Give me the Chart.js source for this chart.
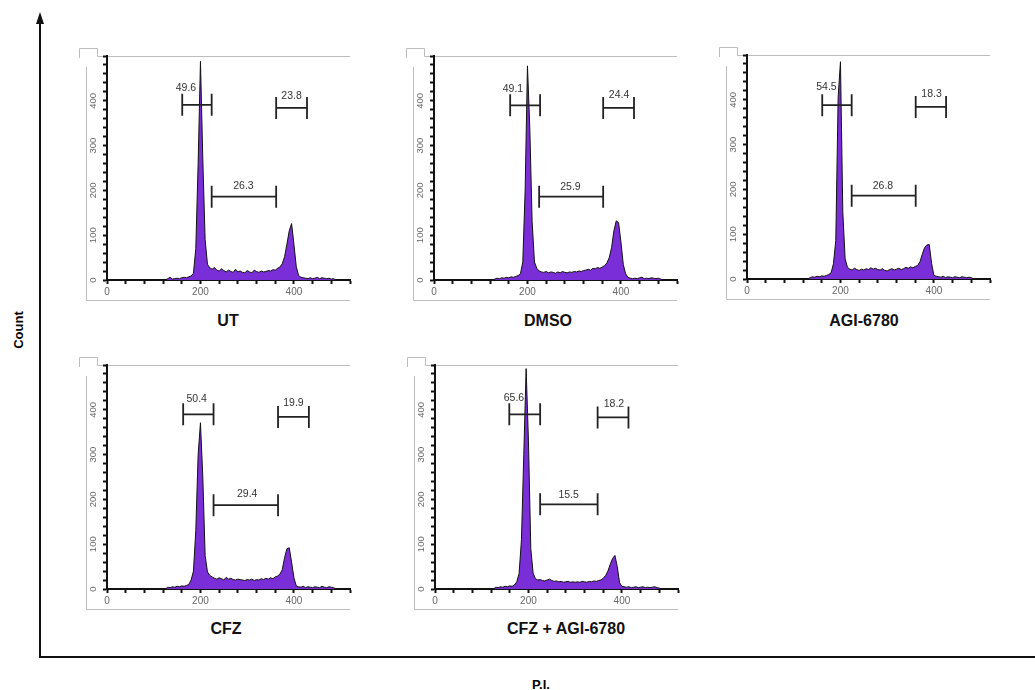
<!DOCTYPE html>
<html>
<head>
<meta charset="utf-8">
<script src="https://cdn.jsdelivr.net/npm/chart.js@4.4.1/dist/chart.umd.min.js"></script>
<style>
  body { margin: 0; background: #fff; font-family: "Liberation Sans", Arial, sans-serif; }
  #page { position: relative; width: 1035px; height: 690px; overflow: hidden; }
  canvas { position: absolute; }
  .title { position: absolute; font-weight: bold; font-size: 16px; color: #111; transform: translateX(-50%); white-space: nowrap; }
  #count { position: absolute; left: 18px; top: 330px; font-weight: bold; font-size: 13px; transform: translate(-50%, -50%) rotate(-90deg); }
  #pi { position: absolute; left: 541px; top: 684px; font-weight: bold; font-size: 13px; transform: translate(-50%, -50%); }
  svg { position: absolute; left: 0; top: 0; }
</style>
</head>
<body>
<div id="page">
  <svg width="1035" height="690">
    <line x1="40" y1="22" x2="40" y2="657" stroke="#111" stroke-width="2"/>
    <polygon points="40,12 36,24 44,24" fill="#111"/>
    <line x1="39" y1="657" x2="1035" y2="657" stroke="#111" stroke-width="2"/>
  </svg>
  <canvas id="p1" width="279" height="262" style="left:75px;top:42px"></canvas>
  <canvas id="p2" width="279" height="262" style="left:402px;top:42px"></canvas>
  <canvas id="p3" width="279" height="262" style="left:715px;top:41px"></canvas>
  <canvas id="p4" width="279" height="262" style="left:75px;top:351px"></canvas>
  <canvas id="p5" width="279" height="262" style="left:403px;top:351px"></canvas>
  <div class="title" style="left:228px;top:312px">UT</div>
  <div class="title" style="left:548px;top:312px">DMSO</div>
  <div class="title" style="left:864px;top:312px">AGI-6780</div>
  <div class="title" style="left:226px;top:620px">CFZ</div>
  <div class="title" style="left:566px;top:620px">CFZ + AGI-6780</div>
  <div id="count">Count</div>
  <div id="pi">P.I.</div>
</div>
<script>
// canaux P.I. (centre des classes de l'histogramme)
const binX = [125,130,135,140,145,150,155,160,165,170,
              175,180,185,190,195,200,205,210,215,220,
              225,230,235,240,245,250,255,260,265,270,
              275,280,285,290,295,300,305,310,315,320,
              325,330,335,340,345,350,355,360,365,370,
              375,380,385,390,395,400,405,410,415,420,
              425,430,435,440,445,450,455,460,465,470,
              475,480,485,490];

// comptages lus sur chaque histogramme
const countUT = [0,3,6,2,3,4,3,5,6,5,
                 7,9,15,70,260,488,270,90,35,27,
                 24,28,22,20,25,21,18,22,19,17,
                 24,18,20,17,16,21,18,16,22,19,
                 17,20,18,19,21,20,23,22,26,29,
                 36,52,80,110,126,80,30,10,6,5,
                 4,3,5,3,4,6,3,5,4,3,
                 4,2,3,0];
const countDMSO = [0,2,4,3,5,4,6,5,7,6,
                   8,10,14,40,200,478,340,130,40,26,
                   20,18,17,19,16,18,17,15,18,16,
                   19,17,16,18,17,19,18,20,19,21,
                   22,24,22,26,25,28,26,29,32,38,
                   50,72,110,132,128,85,35,14,6,4,
                   3,4,3,5,6,3,4,3,5,4,
                   3,4,2,0];
const countAGI = [0,0,3,5,4,6,5,7,6,8,
                  10,14,34,86,405,485,150,45,26,22,
                  20,24,21,19,22,20,23,21,25,22,
                  24,21,20,23,19,18,21,23,20,22,
                  24,21,23,26,24,27,25,28,30,38,
                  55,70,76,77,35,8,6,5,4,6,
                  3,5,4,3,5,4,3,5,4,3,
                  4,3,0,0];
const countCFZ = [0,4,3,5,4,6,5,7,6,8,
                  10,20,40,130,300,371,250,75,38,30,
                  27,24,22,25,23,20,26,22,24,21,
                  20,22,21,20,19,21,20,22,19,21,
                  20,23,21,24,22,25,23,27,29,33,
                  43,70,90,92,60,25,7,5,4,6,
                  3,5,4,3,5,4,3,6,4,3,
                  5,4,3,0];
const countCFZAGI = [0,4,3,5,4,6,5,7,6,9,
                     16,35,110,300,492,330,90,35,23,20,
                     21,19,18,20,22,19,17,18,16,17,
                     15,16,17,15,16,15,16,15,17,16,
                     15,17,16,18,17,19,20,24,30,40,
                     55,68,75,50,14,6,5,4,5,3,
                     4,5,3,4,5,3,4,3,4,5,
                     3,2,0,0];

// portes : [début, fin, hauteur, x du texte, y du texte, pourcentage]
const gatesUT = [
    [161, 224, 391, 169, 429, '49.6'],
    [224, 362, 186, 292, 210, '26.3'],
    [362, 428, 384, 395, 411, '23.8']
];
const gatesDMSO = [
    [163, 227, 390, 169, 425, '49.1'],
    [225, 362, 186, 292, 208, '25.9'],
    [362, 428, 384, 396, 413, '24.4']
];
const gatesAGI = [
    [161, 224, 388, 170, 428, '54.5'],
    [224, 361, 186, 291, 207, '26.8'],
    [361, 426, 384, 395, 413, '18.3']
];
const gatesCFZ = [
    [163, 228, 390, 192, 423, '50.4'],
    [228, 366, 187, 300, 212, '29.4'],
    [366, 432, 384, 399, 415, '19.9']
];
const gatesCFZAGI = [
    [159, 225, 390, 169, 426, '65.6'],
    [225, 348, 189, 286, 209, '15.5'],
    [348, 414, 383, 383, 413, '18.2']
];

const xTicks = [0, 200, 400];     // étiquettes de l'axe P.I.
const yTicks = [0, 100, 200, 300, 400]; // étiquettes de l'axe Count

const purple = '#7a2ed8';
const fontName = "'Liberation Sans', Arial, sans-serif";


// cadre gris façon FlowJo autour de chaque histogramme
const framePlugin = {
    id: 'frame',
    beforeDraw(chart) {
        const {ctx, chartArea: a} = chart;
        ctx.save();
        ctx.strokeStyle = '#bdbdbd';
        ctx.lineWidth = 1;
        ctx.beginPath();
        ctx.moveTo(a.left - 27.5, a.top + 2);
        ctx.lineTo(a.left - 27.5, a.top - 7.5);
        ctx.lineTo(a.left - 9.5, a.top - 7.5);
        ctx.lineTo(a.left - 9.5, a.top + 0.5);
        ctx.lineTo(a.right, a.top + 0.5);
        ctx.moveTo(a.left - 20.5, a.top + 11);
        ctx.lineTo(a.left - 20.5, a.bottom + 20.5);
        ctx.lineTo(a.right, a.bottom + 20.5);
        ctx.stroke();
        ctx.restore();
    }
};

// portes (barres avec butées) et pourcentages
const gatePlugin = {
    id: 'gates',
    afterDatasetsDraw(chart, args, opts) {
        const {ctx, scales: {x, y}} = chart;
        ctx.save();
        opts.gates.forEach(g => {
            const x1 = x.getPixelForValue(g[0]);
            const x2 = x.getPixelForValue(g[1]);
            const yy = y.getPixelForValue(g[2]);
            ctx.strokeStyle = '#222';
            ctx.lineWidth = 1.8;
            ctx.beginPath();
            ctx.moveTo(x1, yy); ctx.lineTo(x2, yy);
            ctx.moveTo(x1, yy - 11); ctx.lineTo(x1, yy + 11);
            ctx.moveTo(x2, yy - 11); ctx.lineTo(x2, yy + 11);
            ctx.stroke();
            ctx.fillStyle = '#333';
            ctx.font = '10.5px ' + fontName;
            ctx.textAlign = 'center';
            ctx.textBaseline = 'middle';
            ctx.fillText(g[5], x.getPixelForValue(g[3]), y.getPixelForValue(g[4]));
        });
        ctx.restore();
    }
};


function histoConfig(counts, gates) {
    const points = binX.map((v, i) => ({x: v, y: counts[i]}));
    return {
        type: 'line',
        data: {
            datasets: [{
                data: points,
                fill: 'origin',
                backgroundColor: purple,
                borderColor: '#111',
                borderWidth: 1,
                pointRadius: 0,
                tension: 0
            }]
        },
        options: {
            responsive: false,
            animation: false,
            layout: {padding: {left: 10, top: 14, right: 4, bottom: 4}},
            plugins: {
                legend: {display: false},
                tooltip: {enabled: false},
                gates: {gates: gates}
            },
            scales: {
                x: {
                    type: 'linear',
                    min: 0,
                    max: 520,
                    afterFit: s => { s.height = 20; },
                    grid: {drawOnChartArea: false, drawTicks: true, tickLength: 4, tickColor: '#111', tickWidth: 2},
                    border: {display: true, color: '#111', width: 2},
                    ticks: {
                        stepSize: 40,
                        autoSkip: false,
                        maxRotation: 0,
                        padding: 2,
                        color: '#666',
                        font: {size: 10, family: fontName},
                        callback: v => xTicks.includes(v) ? v : ''
                    }
                },
                y: {
                    min: 0,
                    max: 500,
                    afterFit: s => { s.width = 22; },
                    grid: {drawOnChartArea: false, drawTicks: true, tickLength: 4, tickColor: '#111', tickWidth: 2},
                    border: {display: true, color: '#111', width: 2},
                    ticks: {
                        stepSize: 20,
                        autoSkip: false,
                        minRotation: 90,
                        maxRotation: 90,
                        crossAlign: 'center',
                        padding: 2,
                        color: '#666',
                        font: {size: 9.5, family: fontName},
                        callback: v => yTicks.includes(v) ? v : ''
                    }
                }
            }
        },
        plugins: [framePlugin, gatePlugin]
    };
}


new Chart(document.getElementById('p1'), histoConfig(countUT, gatesUT));
new Chart(document.getElementById('p2'), histoConfig(countDMSO, gatesDMSO));
new Chart(document.getElementById('p3'), histoConfig(countAGI, gatesAGI));
new Chart(document.getElementById('p4'), histoConfig(countCFZ, gatesCFZ));
new Chart(document.getElementById('p5'), histoConfig(countCFZAGI, gatesCFZAGI));
</script>
</body>
</html>
